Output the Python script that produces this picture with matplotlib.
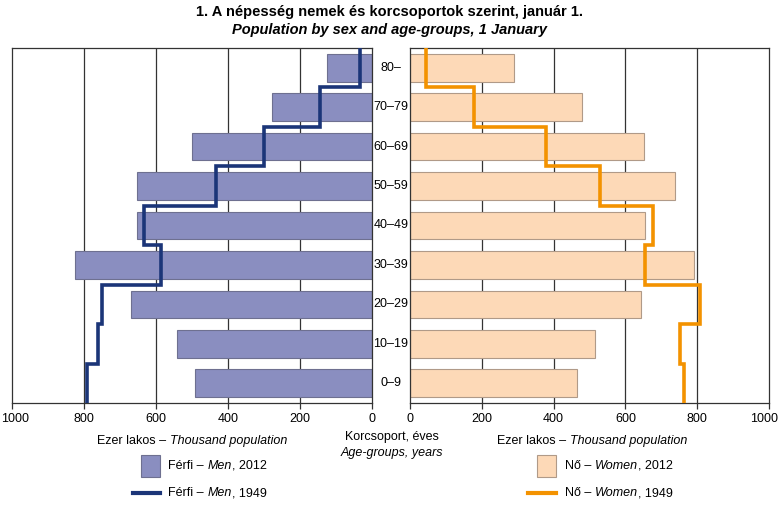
import matplotlib
matplotlib.use("Agg")
import matplotlib.pyplot as plt
import matplotlib.transforms as mtransforms
import numpy as np
from matplotlib.patches import Rectangle
from matplotlib.lines import Line2D

plt.rcParams['font.family'] = ['Liberation Sans Narrow', 'Liberation Sans', 'DejaVu Sans']

age_groups = ["0–9", "10–19", "20–29", "30–39", "40–49", "50–59", "60–69", "70–79", "80–"]
men_2012 = [492, 541, 669, 824, 654, 653, 500, 278, 125]
women_2012 = [466, 514, 644, 792, 655, 739, 652, 478, 290]
men_1949 = [792, 760, 751, 586, 632, 434, 300, 144, 33]
women_1949 = [763, 751, 807, 654, 677, 529, 378, 179, 44]
x_ticks = [0, 200, 400, 600, 800, 1000]

men_bar = "#8a8ec0"
men_edge = "#6e7090"
women_bar = "#fdd9b7"
women_edge = "#b09a88"
men_line = "#1b3578"
women_line = "#f39200"
grid_c = "#333333"

FS = 9

fig = plt.figure(figsize=(7.8, 5.05), dpi=100)
W, H = 780, 505
axL = fig.add_axes([12 / W, 1 - 403 / H, 360 / W, 355 / H])
axR = fig.add_axes([410 / W, 1 - 403 / H, 359 / W, 355 / H])

y = np.arange(len(age_groups))

def steps(vals):
    xs, ys = [], []
    for i, v in enumerate(vals):
        xs += [v, v]
        ys += [i - 0.5, i + 0.5]
    return xs, ys

for ax, bars, line, bc, ec, lc in [
    (axL, men_2012, men_1949, men_bar, men_edge, men_line),
    (axR, women_2012, women_1949, women_bar, women_edge, women_line),
]:
    ax.set_xlim(0, 1000)
    ax.set_ylim(-0.5, len(age_groups) - 0.5)
    for t in x_ticks[1:-1]:
        ax.axvline(t, color=grid_c, lw=0.9, zorder=0)
    ax.barh(y, bars, height=0.7, color=bc, edgecolor=ec, lw=0.8, zorder=2)
    xs, ys = steps(line)
    ax.plot(xs, ys, color=lc, lw=2.6, zorder=3, solid_joinstyle='miter')
    ax.set_xticks(x_ticks)
    ax.set_xticklabels([str(t) for t in x_ticks], fontsize=FS)
    ax.set_yticks([])
    ax.tick_params(axis='x', direction='out', length=4, width=0.9, color=grid_c, pad=3)
    for s in ax.spines.values():
        s.set_color(grid_c)
        s.set_linewidth(0.9)

axL.invert_xaxis()

# nudge the outermost "1000" labels inside the figure
for ax, dx in [(axL, 3.2), (axR, -4.5)]:
    lab = ax.get_xticklabels()[-1]
    lab.set_transform(lab.get_transform() +
                      mtransforms.ScaledTranslation(dx / 100, 0, fig.dpi_scale_trans))

# category labels
for i, lab in enumerate(age_groups):
    fig.text(391 / W, axL.transData.transform((0, i))[1] / fig.bbox.height, lab,
             ha='center', va='center', fontsize=FS)

fig.text(390 / W, 1 - 12 / H, "1. A népesség nemek és korcsoportok szerint, január 1.",
         ha='center', va='center', fontsize=10.5, fontweight='bold')
fig.text(390 / W, 1 - 30 / H, "Population by sex and age-groups, 1 January",
         ha='center', va='center', fontsize=10.5, fontweight='bold', style='italic')

def mixed(x, yy, parts, fs=FS, ha_center=False):
    r = fig.canvas.get_renderer()
    texts = []
    cx = x
    for t, it in parts:
        tt = fig.text(cx / W, 1 - yy / H, t, ha='left', va='center', fontsize=fs,
                      style='italic' if it else 'normal')
        bb = tt.get_window_extent(renderer=r)
        cx += bb.width
        texts.append(tt)
    if ha_center:
        shift = (cx - x) / 2
        for tt in texts:
            px, py = tt.get_position()
            tt.set_position((px - shift / W, py))

fig.canvas.draw()
mixed(192, 441, [("Ezer lakos – ", False), ("Thousand population", True)], ha_center=True)
mixed(592, 441, [("Ezer lakos – ", False), ("Thousand population", True)], ha_center=True)
fig.text(392 / W, 1 - 437 / H, "Korcsoport, éves", ha='center', va='center', fontsize=FS)
fig.text(392 / W, 1 - 453 / H, "Age-groups, years", ha='center', va='center', fontsize=FS, style='italic')

# legend
fig.patches.append(Rectangle((141 / W, 1 - 477 / H), 19 / W, 22 / H, transform=fig.transFigure,
                             facecolor=men_bar, edgecolor=men_edge, lw=0.8))
mixed(168, 466, [("Férfi – ", False), ("Men", True), (", 2012", False)])
fig.lines.append(Line2D([133 / W, 160 / W], [1 - 493 / H, 1 - 493 / H], transform=fig.transFigure,
                        color=men_line, lw=3))
mixed(168, 493, [("Férfi – ", False), ("Men", True), (", 1949", False)])

fig.patches.append(Rectangle((537 / W, 1 - 477 / H), 19 / W, 22 / H, transform=fig.transFigure,
                             facecolor=women_bar, edgecolor=women_edge, lw=0.8))
mixed(565, 466, [("Nő – ", False), ("Women", True), (", 2012", False)])
fig.lines.append(Line2D([528 / W, 556 / W], [1 - 493 / H, 1 - 493 / H], transform=fig.transFigure,
                        color=women_line, lw=3))
mixed(565, 493, [("Nő – ", False), ("Women", True), (", 1949", False)])

fig.savefig("out.png", dpi=100)
